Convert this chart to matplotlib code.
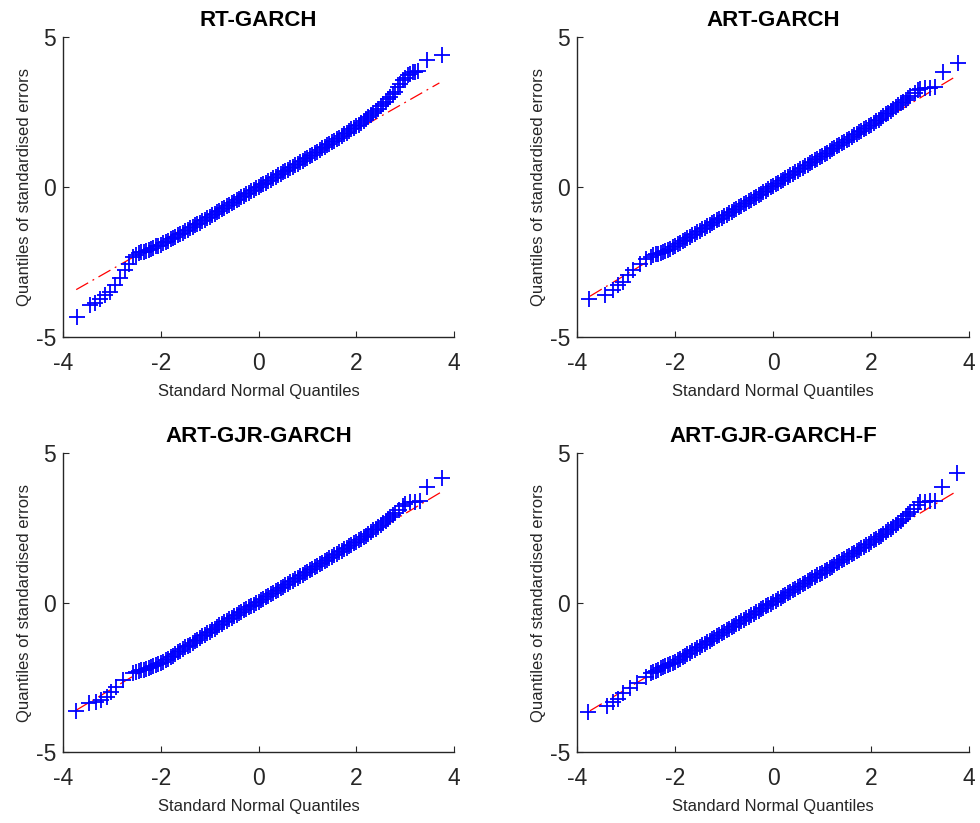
import matplotlib
matplotlib.use("Agg")
import matplotlib.pyplot as plt

plt.rcParams["font.family"] = ["Liberation Sans", "DejaVu Sans"]
plt.rcParams["axes.unicode_minus"] = False

titles = ["RT-GARCH", "ART-GARCH", "ART-GJR-GARCH", "ART-GJR-GARCH-F"]

# body of each QQ cloud, theoretical quantiles shared by all four panels
body_x = [-2.5, -2.4, -2.3, -2.2, -2.1, -2.0, -1.9, -1.8, -1.7, -1.6, -1.5, -1.4, -1.3,
          -1.2, -1.1, -1.0, -0.9, -0.8, -0.7, -0.6, -0.5, -0.4, -0.3, -0.2, -0.1, 0.0,
          0.1, 0.2, 0.3, 0.4, 0.5, 0.6, 0.7, 0.8, 0.9, 1.0, 1.1, 1.2, 1.3, 1.4, 1.5,
          1.6, 1.7, 1.8, 1.9, 2.0, 2.1, 2.2, 2.3, 2.4, 2.5, 2.6, 2.7, 2.8]
half_x = [-2.45, -2.35, -2.25, -2.15, -2.05, -1.95, -1.85, -1.75, -1.65, -1.55, -1.45,
          -1.35, -1.25, -1.15, -1.05, -0.95, -0.85, -0.75, -0.65, -0.55, -0.45, -0.35,
          -0.25, -0.15, -0.05, 0.05, 0.15, 0.25, 0.35, 0.45, 0.55, 0.65, 0.75, 0.85,
          0.95, 1.05, 1.15, 1.25, 1.35, 1.45, 1.55, 1.65, 1.75, 1.85, 1.95, 2.05, 2.15,
          2.25, 2.35, 2.45, 2.55, 2.65, 2.75]

# RT-GARCH
rt_low_x = [-3.71, -3.45, -3.35, -3.24, -3.14, -3.04, -2.94, -2.83, -2.73, -2.66, -2.56]
rt_low_y = [-4.34, -3.94, -3.88, -3.74, -3.60, -3.49, -3.27, -3.04, -2.77, -2.56, -2.32]
rt_body_y = [-2.25, -2.18, -2.12, -2.05, -1.98, -1.92, -1.83, -1.74, -1.65, -1.56, -1.47,
             -1.38, -1.28, -1.19, -1.09, -0.99, -0.89, -0.79, -0.69, -0.59, -0.49, -0.39,
             -0.29, -0.19, -0.09, 0.01, 0.11, 0.20, 0.30, 0.39, 0.49, 0.58, 0.68, 0.78,
             0.88, 0.98, 1.08, 1.18, 1.29, 1.39, 1.50, 1.60, 1.71, 1.81, 1.92, 2.02, 2.14,
             2.26, 2.40, 2.54, 2.69, 2.85, 3.01, 3.17]
rt_half_y = [-2.21, -2.15, -2.09, -2.02, -1.95, -1.88, -1.79, -1.70, -1.61, -1.52, -1.43,
             -1.33, -1.24, -1.14, -1.04, -0.94, -0.84, -0.74, -0.64, -0.54, -0.44, -0.34,
             -0.24, -0.14, -0.04, 0.06, 0.15, 0.25, 0.34, 0.44, 0.53, 0.63, 0.73, 0.83,
             0.93, 1.03, 1.13, 1.23, 1.34, 1.44, 1.55, 1.65, 1.76, 1.86, 1.97, 2.08, 2.20,
             2.33, 2.47, 2.61, 2.77, 2.93, 3.09]
rt_up_x = [2.86, 2.90, 2.96, 3.00, 3.06, 3.10, 3.17, 3.20, 3.27, 3.44, 3.76]
rt_up_y = [3.33, 3.45, 3.56, 3.65, 3.72, 3.78, 3.83, 3.83, 3.86, 4.22, 4.41]
rt_ref_x = [-3.73, 3.70]
rt_ref_y = [-3.42, 3.47]

# ART-GARCH
art_low_x = [-3.76, -3.44, -3.27, -3.16, -3.06, -2.96, -2.86, -2.72, -2.59]
art_low_y = [-3.74, -3.61, -3.44, -3.28, -3.17, -2.94, -2.78, -2.56, -2.39]
art_body_y = [-2.32, -2.24, -2.19, -2.13, -2.06, -1.96, -1.86, -1.76, -1.66, -1.56, -1.46,
              -1.36, -1.26, -1.16, -1.06, -0.97, -0.87, -0.77, -0.67, -0.57, -0.47, -0.37,
              -0.27, -0.17, -0.06, 0.04, 0.14, 0.24, 0.34, 0.44, 0.54, 0.64, 0.74, 0.85,
              0.95, 1.05, 1.15, 1.26, 1.36, 1.46, 1.56, 1.66, 1.77, 1.87, 1.98, 2.08, 2.19,
              2.30, 2.42, 2.54, 2.66, 2.79, 2.90, 3.02]
art_half_y = [-2.28, -2.22, -2.16, -2.10, -2.01, -1.91, -1.81, -1.71, -1.61, -1.51, -1.41,
              -1.31, -1.21, -1.11, -1.02, -0.92, -0.82, -0.72, -0.62, -0.52, -0.42, -0.32,
              -0.22, -0.12, -0.01, 0.09, 0.19, 0.29, 0.39, 0.49, 0.59, 0.69, 0.80, 0.90,
              1.00, 1.10, 1.21, 1.31, 1.41, 1.51, 1.61, 1.72, 1.82, 1.93, 2.03, 2.14, 2.25,
              2.36, 2.48, 2.60, 2.73, 2.85, 2.96]
art_up_x = [2.90, 2.95, 3.00, 3.10, 3.20, 3.30, 3.46, 3.78]
art_up_y = [3.15, 3.25, 3.28, 3.30, 3.30, 3.32, 3.83, 4.13]
art_ref_x = [-3.74, 3.73]
art_ref_y = [-3.64, 3.69]

# ART-GJR-GARCH
gjr_low_x = [-3.74, -3.47, -3.32, -3.22, -3.11, -3.01, -2.91, -2.77, -2.57]
gjr_low_y = [-3.62, -3.37, -3.34, -3.26, -3.15, -2.98, -2.82, -2.59, -2.37]
gjr_body_y = [-2.32, -2.27, -2.22, -2.16, -2.10, -2.02, -1.92, -1.82, -1.71, -1.61, -1.50,
              -1.40, -1.29, -1.18, -1.08, -0.97, -0.87, -0.76, -0.66, -0.55, -0.45, -0.35,
              -0.25, -0.15, -0.06, 0.03, 0.13, 0.23, 0.33, 0.43, 0.53, 0.63, 0.73, 0.83,
              0.94, 1.04, 1.14, 1.24, 1.34, 1.44, 1.54, 1.64, 1.74, 1.84, 1.94, 2.04, 2.14,
              2.25, 2.36, 2.48, 2.60, 2.74, 2.87, 3.00]
gjr_half_y = [-2.30, -2.25, -2.19, -2.13, -2.06, -1.97, -1.87, -1.77, -1.66, -1.56, -1.45,
              -1.35, -1.24, -1.13, -1.03, -0.92, -0.82, -0.71, -0.61, -0.50, -0.40, -0.30,
              -0.20, -0.11, -0.02, 0.08, 0.18, 0.28, 0.38, 0.48, 0.58, 0.68, 0.78, 0.89,
              0.99, 1.09, 1.19, 1.29, 1.39, 1.49, 1.59, 1.69, 1.79, 1.89, 1.99, 2.09, 2.20,
              2.31, 2.42, 2.54, 2.67, 2.81, 2.94]
gjr_up_x = [2.88, 2.95, 3.00, 3.10, 3.20, 3.30, 3.44, 3.75]
gjr_up_y = [3.12, 3.25, 3.32, 3.36, 3.38, 3.40, 3.87, 4.19]
gjr_ref_x = [-3.73, 3.75]
gjr_ref_y = [-3.60, 3.72]

# ART-GJR-GARCH-F
gjrf_low_x = [-3.78, -3.40, -3.27, -3.16, -3.06, -2.93, -2.79, -2.59]
gjrf_low_y = [-3.65, -3.46, -3.32, -3.21, -3.04, -2.87, -2.70, -2.48]
gjrf_body_y = [-2.35, -2.28, -2.20, -2.13, -2.05, -1.97, -1.88, -1.78, -1.68, -1.58, -1.48,
               -1.38, -1.28, -1.18, -1.07, -0.97, -0.87, -0.77, -0.67, -0.57, -0.47, -0.37,
               -0.27, -0.17, -0.08, 0.02, 0.12, 0.22, 0.32, 0.42, 0.52, 0.62, 0.72, 0.82,
               0.92, 1.01, 1.11, 1.21, 1.32, 1.42, 1.52, 1.62, 1.72, 1.83, 1.93, 2.04, 2.14,
               2.25, 2.36, 2.48, 2.60, 2.74, 2.89, 3.04]
gjrf_half_y = [-2.31, -2.24, -2.16, -2.09, -2.01, -1.92, -1.83, -1.73, -1.63, -1.53, -1.43,
               -1.33, -1.23, -1.12, -1.02, -0.92, -0.82, -0.72, -0.62, -0.52, -0.42, -0.32,
               -0.22, -0.12, -0.03, 0.07, 0.17, 0.27, 0.37, 0.47, 0.57, 0.67, 0.77, 0.87,
               0.97, 1.06, 1.16, 1.26, 1.37, 1.47, 1.57, 1.67, 1.77, 1.88, 1.98, 2.09, 2.19,
               2.30, 2.42, 2.54, 2.67, 2.81, 2.96]
gjrf_up_x = [2.88, 2.95, 3.00, 3.10, 3.20, 3.30, 3.44, 3.76]
gjrf_up_y = [3.15, 3.28, 3.36, 3.38, 3.40, 3.40, 3.87, 4.34]
gjrf_ref_x = [-3.74, 3.73]
gjrf_ref_y = [-3.62, 3.72]

panels = [
    (rt_low_x + body_x + half_x + rt_up_x, rt_low_y + rt_body_y + rt_half_y + rt_up_y,
     rt_ref_x, rt_ref_y),
    (art_low_x + body_x + half_x + art_up_x, art_low_y + art_body_y + art_half_y + art_up_y,
     art_ref_x, art_ref_y),
    (gjr_low_x + body_x + half_x + gjr_up_x, gjr_low_y + gjr_body_y + gjr_half_y + gjr_up_y,
     gjr_ref_x, gjr_ref_y),
    (gjrf_low_x + body_x + half_x + gjrf_up_x,
     gjrf_low_y + gjrf_body_y + gjrf_half_y + gjrf_up_y, gjrf_ref_x, gjrf_ref_y),
]

axis_col = "#262626"
fig = plt.figure(figsize=(9.8, 8.23), dpi=100)
rects = [
    [0.0643, 0.5905, 0.399, 0.3645],
    [0.5890, 0.5905, 0.400, 0.3645],
    [0.0643, 0.0863, 0.399, 0.3627],
    [0.5890, 0.0863, 0.400, 0.3627],
]

for rect, title, (qx, qy, rx, ry) in zip(rects, titles, panels):
    ax = fig.add_axes(rect)
    # reference line sits under the dense cloud
    ax.plot(rx, ry, color="red", linewidth=0.9, dashes=(11, 4, 1.5, 4), zorder=1)
    ax.plot(qx, qy, linestyle="none", marker="+", color="blue",
            markersize=12, markeredgewidth=1.3, zorder=2)
    ax.set_xlim(-4, 4)
    ax.set_ylim(-5, 5)
    ax.set_xticks([-4, -2, 0, 2, 4])
    ax.set_yticks([-5, 0, 5])
    ax.spines["top"].set_visible(False)
    ax.spines["right"].set_visible(False)
    for s in ("left", "bottom"):
        ax.spines[s].set_color(axis_col)
        ax.spines[s].set_linewidth(1.0)
    ax.tick_params(direction="in", length=4, width=0.8, colors=axis_col, labelsize=16.5)
    ax.tick_params(axis="x", pad=11)
    ax.tick_params(axis="y", pad=5)
    ax.set_title(title, fontsize=16, fontweight="bold", pad=8)
    ax.set_xlabel("Standard Normal Quantiles", fontsize=12, color=axis_col, labelpad=6)
    ax.set_ylabel("Quantiles of standardised errors", fontsize=12, color=axis_col, labelpad=3)

fig.savefig("out.png", dpi=100)
